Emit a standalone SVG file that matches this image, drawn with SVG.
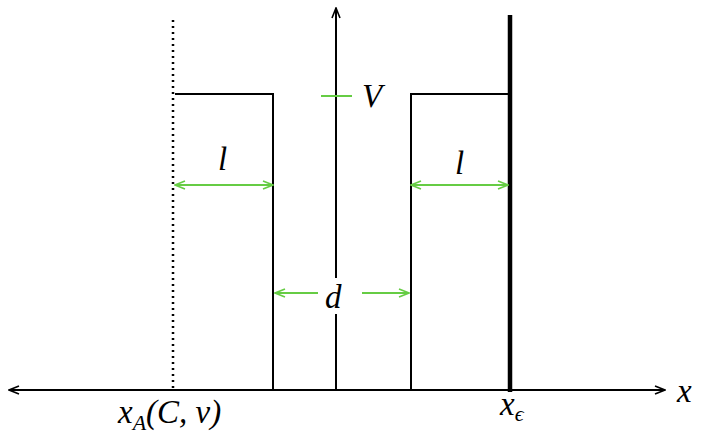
<svg xmlns="http://www.w3.org/2000/svg" width="706" height="444" viewBox="0 0 706 444">
<style>
.k{stroke:#000;stroke-width:2;fill:none}
.g{stroke:#66cc44;stroke-width:2;fill:none}
text{font-family:"Liberation Serif",serif;font-style:italic;font-size:33px;fill:#000}
</style>
<defs>
<marker id="ak" markerWidth="12" markerHeight="10" refX="11" refY="5" orient="auto-start-reverse" markerUnits="userSpaceOnUse"><path d="M1,1 L11,5 L1,9" fill="none" stroke="#000" stroke-width="1.6"/></marker>
<marker id="ag" markerWidth="12" markerHeight="10" refX="11" refY="5" orient="auto-start-reverse" markerUnits="userSpaceOnUse"><path d="M1,1 L11,5 L1,9" fill="none" stroke="#66cc44" stroke-width="1.6"/></marker>
</defs>
<rect width="706" height="444" fill="#fff"/>
<g id="axes">
<line class="k" x1="9" y1="390" x2="665" y2="390" marker-start="url(#ak)" marker-end="url(#ak)"/>
<line class="k" x1="336" y1="390" x2="336" y2="8" marker-end="url(#ak)"/>
</g>
<g id="dotted"><line x1="173" y1="20" x2="173" y2="390" stroke="#000" stroke-width="2.5" stroke-dasharray="2,4"/></g>
<g id="wall"><line x1="510" y1="15" x2="510" y2="392" stroke="#000" stroke-width="4.5"/></g>
<g id="barrierL"><polyline class="k" points="175,94 273,94 273,390"/></g>
<g id="barrierR"><polyline class="k" points="411,390 411,94 510,94"/></g>
<g id="connectors">
<line class="g" x1="175" y1="185" x2="273" y2="185" marker-start="url(#ag)" marker-end="url(#ag)"/>
<line class="g" x1="411" y1="185" x2="508" y2="185" marker-start="url(#ag)" marker-end="url(#ag)"/>
<line class="g" x1="318" y1="293" x2="275" y2="293" marker-end="url(#ag)"/>
<line class="g" x1="362" y1="293" x2="409" y2="293" marker-end="url(#ag)"/>
<line class="g" x1="321" y1="96" x2="352" y2="96"/>
</g>
<g id="labels">
<text x="218" y="170">l</text>
<text x="455" y="174">l</text>
<rect x="322" y="278" width="30" height="36" fill="#fff"/>
<text x="325" y="308">d</text>
<text x="362" y="107">V</text>
<text x="118" y="423">x<tspan font-size="22" dy="7">A</tspan><tspan dy="-7">(C, ν)</tspan></text>
<text x="500" y="415">x<tspan font-size="22" dy="6">ϵ</tspan></text>
<text x="677" y="402">x</text>
</g>
</svg>
